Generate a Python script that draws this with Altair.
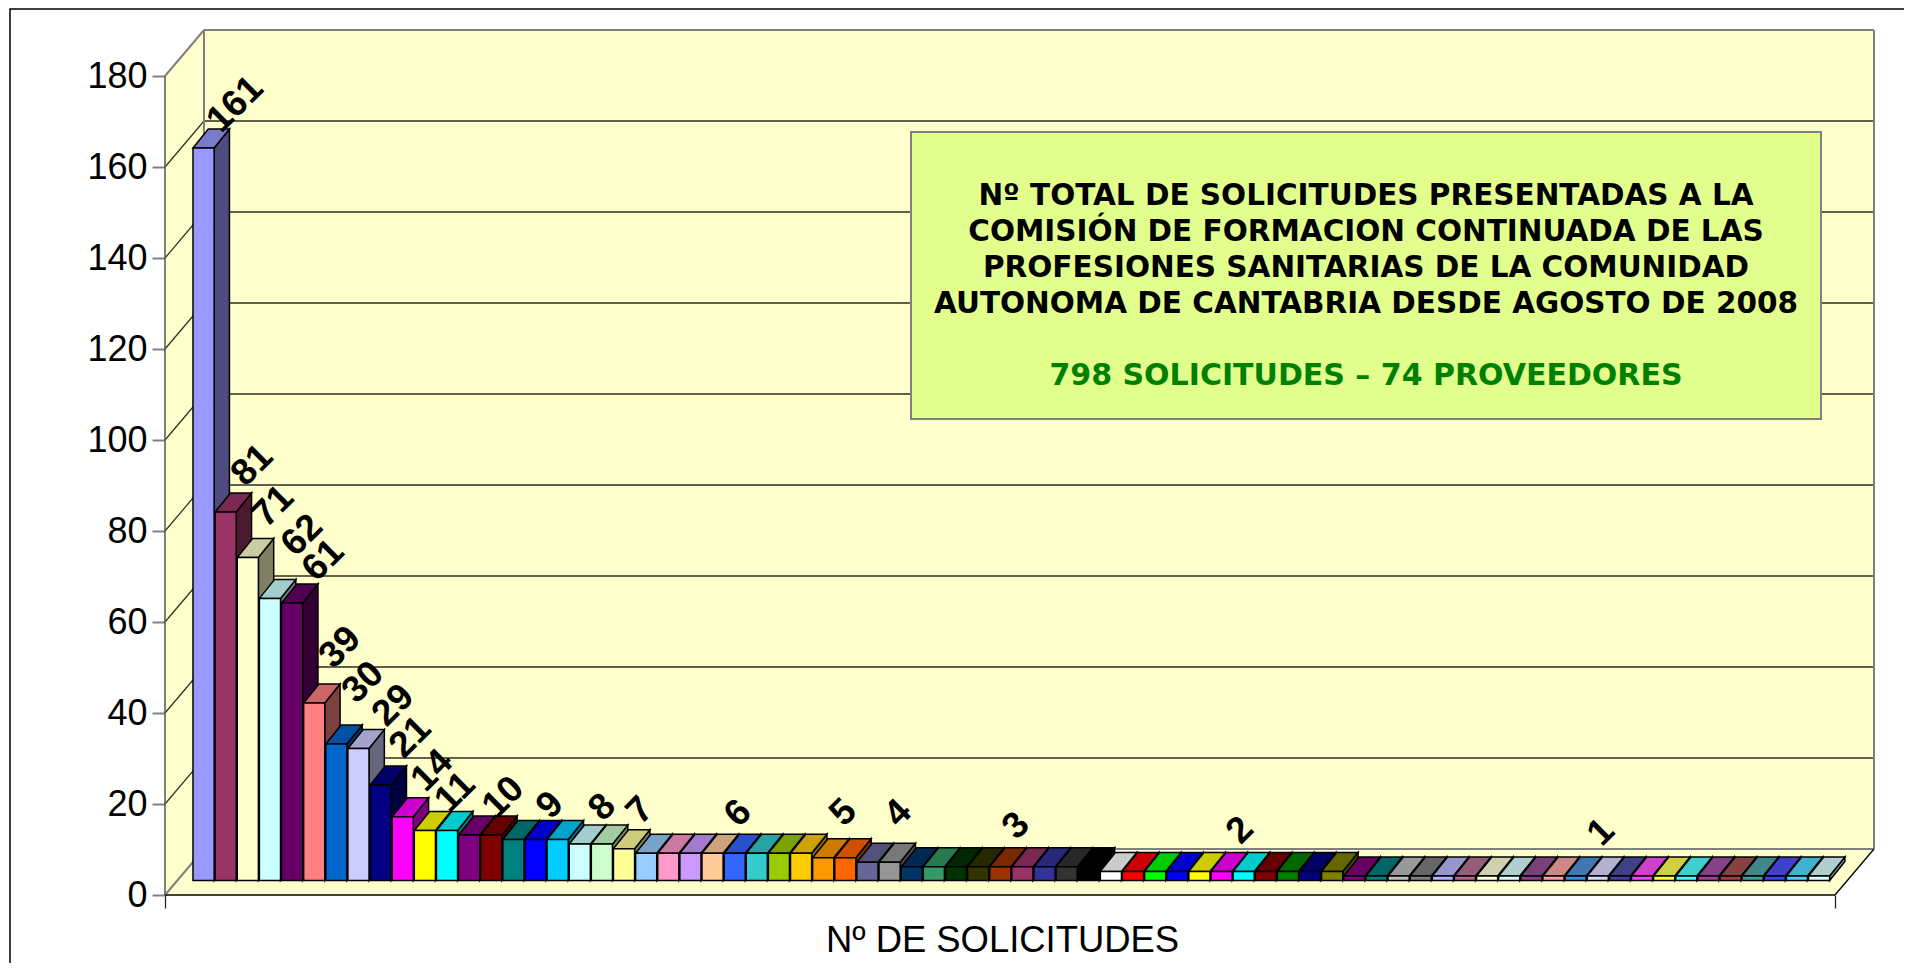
import altair as alt
import pandas as pd

bar_values = [161, 81, 71, 62, 61, 39, 30, 29, 21, 14, 11, 11, 10, 10, 9, 9, 9, 8, 8, 7,
              6, 6, 6, 6, 6, 6, 6, 6, 5, 5, 4, 4, 3, 3, 3, 3, 3, 3, 3, 3, 3,
              2, 2, 2, 2, 2, 2, 2, 2, 2, 2, 2,
              1, 1, 1, 1, 1, 1, 1, 1, 1, 1, 1, 1, 1, 1, 1, 1, 1, 1, 1, 1, 1, 1]

solid_colors = ["#9999FF", "#993366", "#FFFFCC", "#CCFFFF", "#660066", "#FF8080", "#0066CC", "#CCCCFF",
                "#000080", "#FF00FF", "#FFFF00", "#00FFFF", "#800080", "#800000", "#008080", "#0000FF",
                "#00CCFF", "#CCFFFF", "#CCFFCC", "#FFFF99", "#99CCFF", "#FF99CC", "#CC99FF", "#FFCC99",
                "#3366FF", "#33CCCC", "#99CC00", "#FFCC00", "#FF9900", "#FF6600", "#666699", "#969696",
                "#003366", "#339966", "#003300", "#333300", "#993300", "#993366", "#333399", "#333333",
                "#000000", "#FFFFFF", "#FF0000", "#00FF00", "#0000FF", "#FFFF00", "#FF00FF", "#00FFFF",
                "#800000", "#008000", "#000080", "#808000", "#800080", "#008080", "#C0C0C0", "#808080"]
patterned_colors = ["#9999FF", "#993366", "#FFFFCC", "#CCFFFF", "#660066", "#FF8080", "#0066CC", "#CCCCFF",
                    "#000080", "#FF00FF", "#FFFF00", "#00FFFF", "#800080", "#800000", "#008080", "#0000FF",
                    "#00CCFF", "#CCFFFF"]

label_text = ["161", "81", "71", "62", "61", "39", "30", "29", "21", "14", "11", "10", "9", "8", "7",
              "6", "5", "4", "3", "2", "1"]
label_bar = [0, 1, 2, 3, 4, 5, 6, 7, 8, 9, 10, 12, 15, 17, 19, 23, 28, 30, 36, 46, 62]
label_dx = [16.5, 11.4, 10.2, 17, 16, 10.8, 11.7, 19.6, 14.5, 14.3, 15.2, 19, -0.5, 7.3, 1, 10.5, 5, 15.6, 0.8, 3.5, 10.4]
label_dy = [-24.5, -27.5, -32, -44, -23.5, -36.5, -42.5, -24, -28.5, -27, -19, -18.5, -15, -17.6, -19, -20.7, -26, -29.8, -22, -22, -24.5]

box_lines = ["Nº TOTAL DE SOLICITUDES PRESENTADAS A LA",
             "COMISIÓN DE FORMACION CONTINUADA DE LAS",
             "PROFESIONES SANITARIAS DE LA COMUNIDAD",
             "AUTONOMA DE CANTABRIA DESDE AGOSTO DE 2008"]
box_total = "798 SOLICITUDES – 74 PROVEEDORES"
axis_title = "Nº DE SOLICITUDES"
y_ticks = list(range(0, 181, 20))

# geometry of the oblique projection
W, H = 1709, 865          # plot area in pixels
PX_V = 4.55               # pixels per value unit
PX_B = 22.13              # pixels per bar slot
DEPTH_X, DEPTH_Y = 39 / PX_B, 46 / PX_V           # full floor depth in data units
BAR_DX, BAR_DY = 15.3 / PX_B, 19 / PX_V           # depth of a bar
BASE_X, BASE_Y = 1.265, 14.5 / PX_V               # front of the bar row
BAR_W = 0.955
x_dom = [0, W / PX_B]
y_dom = [0, H / PX_V]
back_right = x_dom[1]
front_right = back_right - DEPTH_X
wall_top = y_dom[1]

x_scale = alt.Scale(domain=x_dom, range=[0, W], nice=False, zero=False)
y_scale = alt.Scale(domain=y_dom, range=[H, 0], nice=False, zero=False)
x_axis = alt.Axis(
    values=[0, front_right], domain=False, grid=False, ticks=True, tickSize=13, tickColor="#222222", tickWidth=1.3,
    labels=False, title=axis_title, titleFontSize=36.4, titleFont="Liberation Sans", titleFontWeight="normal",
    titleColor="#000000", titleX=837, titleY=45, titleAnchor="middle", titleAlign="center", titleBaseline="middle")
y_axis = alt.Axis(
    values=y_ticks, domain=False, grid=False, ticks=True, tickSize=13, tickColor="#808080", tickWidth=2,
    labelFontSize=36, labelFont="Liberation Sans", labelColor="#000000", labelPadding=5, title=None, format="d")
X = alt.X("x:Q", scale=x_scale, axis=x_axis)
Y = alt.Y("y:Q", scale=y_scale, axis=y_axis, stack=None)


def shade(hexcol, factor):
    return "#" + "".join(f"{int(int(hexcol[i:i+2], 16) * factor):02X}" for i in (1, 3, 5))


def blend(hexcol, other, t):
    return "#" + "".join(
        f"{int(int(hexcol[i:i+2], 16) * (1 - t) + int(other[i:i+2], 16) * t):02X}" for i in (1, 3, 5))


front_colors = solid_colors + [blend(c, "#FFFFFF", 0.25) for c in patterned_colors]
top_colors = [shade(c, 0.8) for c in solid_colors] + [blend(shade(c, 0.8), "#D8D8D8", 0.3) for c in patterned_colors]
side_colors = [shade(c, 0.5) for c in solid_colors] + [blend(shade(c, 0.5), "#FFFFFF", 0.2) for c in patterned_colors]

fronts, tops, sides = [], [], []
for i, v in enumerate(bar_values):
    L = BASE_X + i
    R = L + BAR_W
    b = BASE_Y
    t = BASE_Y + v
    k = f"b{i:02d}"
    fronts.append({"x": L, "x2": R, "y": b, "y2": t, "k": k})
    for px, lo, hi in [(L, t, t), (L + BAR_DX, t, t + BAR_DY), (R, t, t + BAR_DY), (R + BAR_DX, t + BAR_DY, t + BAR_DY)]:
        tops.append({"x": px, "y": lo, "y2": hi, "k": k})
    for px, lo, hi in [(R, b, t), (R + BAR_DX, b + BAR_DY, t + BAR_DY)]:
        sides.append({"x": px, "y": lo, "y2": hi, "k": k})

keys = [f"b{i:02d}" for i in range(len(bar_values))]


def color(range_):
    return alt.Fill("k:N", scale=alt.Scale(domain=keys, range=range_), legend=None)


# walls
wall_back = alt.Chart(pd.DataFrame([{"x": DEPTH_X, "x2": back_right, "y": DEPTH_Y, "y2": wall_top}])).mark_rect(
    fill="#FFFFCC").encode(x=X, x2="x2", y=Y, y2="y2")
wall_left = alt.Chart(pd.DataFrame([
    {"x": 0, "y": 0, "y2": 180},
    {"x": DEPTH_X, "y": DEPTH_Y, "y2": wall_top},
])).mark_area(fill="#FFFFCC").encode(x=X, y=Y, y2="y2")
wall_floor = alt.Chart(pd.DataFrame([
    {"x": 0, "y": 0, "y2": 0},
    {"x": DEPTH_X, "y": 0, "y2": DEPTH_Y},
    {"x": front_right, "y": 0, "y2": DEPTH_Y},
    {"x": back_right, "y": DEPTH_Y, "y2": DEPTH_Y},
])).mark_area(fill="#FFFFCC").encode(x=X, y=Y, y2="y2")

# grid lines: back wall
grid_df = pd.DataFrame({"x": DEPTH_X, "x2": back_right, "y": [v + DEPTH_Y for v in y_ticks[1:-1]]})
grid_back = alt.Chart(grid_df).mark_rule(color="#2E2E22", strokeWidth=1.5).encode(x=X, x2="x2", y=Y)
# grid lines: left wall diagonals
diag = []
for v in y_ticks[1:-1]:
    diag += [{"x": 0, "y": v, "k": v}, {"x": DEPTH_X, "y": v + DEPTH_Y, "k": v}]
grid_left = alt.Chart(pd.DataFrame(diag)).mark_line(color="#2E2E22", strokeWidth=1.2).encode(x=X, y=Y, detail="k:N")

# grey frame lines
frame = [
    {"k": "top", "x": DEPTH_X, "y": wall_top}, {"k": "top", "x": back_right, "y": wall_top},
    {"k": "right", "x": back_right, "y": wall_top}, {"k": "right", "x": back_right, "y": DEPTH_Y},
    {"k": "back", "x": DEPTH_X, "y": wall_top}, {"k": "back", "x": DEPTH_X, "y": DEPTH_Y},
    {"k": "floor", "x": DEPTH_X, "y": DEPTH_Y}, {"k": "floor", "x": back_right, "y": DEPTH_Y},
    {"k": "d1", "x": 0, "y": 180}, {"k": "d1", "x": DEPTH_X, "y": wall_top},
    {"k": "d2", "x": 0, "y": 0}, {"k": "d2", "x": DEPTH_X, "y": DEPTH_Y},
]
frame_lines = alt.Chart(pd.DataFrame(frame)).mark_line(color="#808080", strokeWidth=2).encode(
    x=X, y=Y, detail="k:N")
# dark front lines
dark = [
    {"k": "base", "x": 0, "y": 0}, {"k": "base", "x": front_right, "y": 0},
    {"k": "dr", "x": front_right, "y": 0}, {"k": "dr", "x": back_right, "y": DEPTH_Y},
]
dark_lines = alt.Chart(pd.DataFrame(dark)).mark_line(color="#000000", strokeWidth=1.3).encode(x=X, y=Y, detail="k:N")
y_line = alt.Chart(pd.DataFrame([{"x": 0, "y": 0}, {"x": 0, "y": 180}])).mark_line(
    color="#555555", strokeWidth=1.5).encode(x=X, y=Y)

# bars
side_layer = alt.Chart(pd.DataFrame(sides)).mark_area(stroke="#000000", strokeWidth=1.5, strokeJoin="miter").encode(
    x=X, y=Y, y2="y2", fill=color(side_colors), detail="k:N")
top_layer = alt.Chart(pd.DataFrame(tops)).mark_area(stroke="#000000", strokeWidth=1.5, strokeJoin="miter").encode(
    x=X, y=Y, y2="y2", fill=color(top_colors), detail="k:N")
front_layer = alt.Chart(pd.DataFrame(fronts)).mark_rect(stroke="#000000", strokeWidth=1.5).encode(
    x=X, x2="x2", y=Y, y2="y2", fill=color(front_colors))

# value labels, sat over the back-top edge of their bar
lab = pd.DataFrame({"t": label_text, "b": label_bar, "dx": label_dx, "dy": label_dy})
lab["v"] = [bar_values[b] for b in label_bar]
lab["x"] = BASE_X + lab["b"] + BAR_W / 2 + BAR_DX + lab["dx"] / PX_B
lab["y"] = BASE_Y + lab["v"] + BAR_DY - lab["dy"] / PX_V
labels = alt.Chart(lab).mark_text(
    angle=315, font="Liberation Sans", fontWeight="bold", fontSize=37, color="#000000",
    align="center", baseline="middle").encode(x=X, y=Y, text="t:N")

# annotation box
box = alt.Chart(pd.DataFrame({"a": [0]})).mark_rect(
    fill="#E2FF8E", stroke="#808080", strokeWidth=2).encode(
    x=alt.value(746), x2=alt.value(1656), y=alt.value(102), y2=alt.value(389))
box_text = alt.Chart(pd.DataFrame({"a": [0]})).mark_text(
    text=box_lines, font="DejaVu Sans", fontWeight="bold", fontSize=29.5, lineHeight=36, color="#000000",
    align="center", baseline="top").encode(x=alt.value(1201), y=alt.value(152))
box_green = alt.Chart(pd.DataFrame({"a": [0]})).mark_text(
    text=box_total, font="DejaVu Sans", fontWeight="bold", fontSize=30, color="#008000",
    align="center", baseline="middle").encode(x=alt.value(1201), y=alt.value(346))

# outer frame, running off the picture on the right and at the bottom
border = alt.Chart(pd.DataFrame({"a": [0]})).mark_rect(
    filled=False, stroke="#000000", strokeWidth=1.5).encode(
    x=alt.value(-155), x2=alt.value(1800), y=alt.value(-21), y2=alt.value(1000))

chart = alt.layer(
    border, wall_back, wall_left, wall_floor, grid_back, grid_left, frame_lines, dark_lines, y_line,
    side_layer, top_layer, front_layer, labels, box, box_text, box_green
).resolve_scale(fill="independent").properties(
    width=W, height=H,
    padding={"left": 157, "top": 22, "right": 30, "bottom": 68},
    autosize=alt.AutoSizeParams(type="none"),
    background="#FFFFFF",
).configure_view(stroke=None)

chart.save("out.html", embed_options={"renderer": "svg", "actions": False})
